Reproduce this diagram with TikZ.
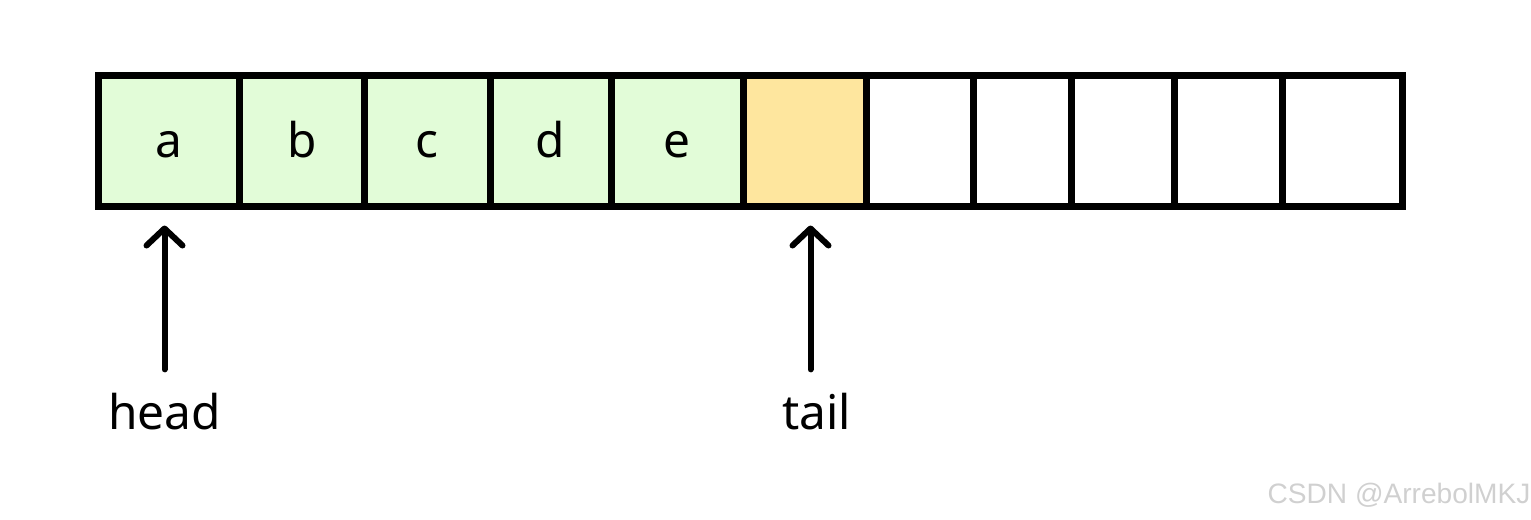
\documentclass[tikz,border=0pt]{standalone}
\usepackage{fontspec}
\setmainfont{Noto Sans}
\newfontfamily\markfont{Liberation Sans}
\usetikzlibrary{arrows.meta, positioning}
\definecolor{QueueGreen}{HTML}{E2FCD8}
\definecolor{QueueYellow}{HTML}{FEE69E}
\definecolor{QueueBlack}{HTML}{000000}
\definecolor{QueueWhite}{HTML}{ffffff}
\definecolor{MarkGray}{HTML}{D0D0D0}
\tikzset{
    % Default text
    every node/.style={font=\fontsize{13.6}{16}\selectfont},
    % Base queue cell
    cell/.style={
        rectangle,
        draw=QueueBlack,
        line width=0.07cm,
        minimum height=1.31cm,
        text height=0.32cm,
        text depth=0cm,
        inner sep=0pt,
        outer sep=0pt
    },
    % Occupied cell
    used/.style={cell, fill=QueueGreen},
    % Slot the tail points at
    slot/.style={cell, fill=QueueYellow},
    % Free cell
    free/.style={cell, fill=QueueWhite},
    % Pointer arrow
    pointer/.style={
        -{Straight Barb[length=0.17cm, width=0.36cm, round]},
        line width=0.06cm,
        line cap=round,
        color=QueueBlack
    },
    % Pointer name
    ptrname/.style={inner sep=0pt, anchor=center}
}

\begin{document}
\begin{tikzpicture}
        \useasboundingbox (0,0) rectangle (15.31,-5.19);

        % Queue cells
        \node (ca) [used, minimum width=1.41cm] at (1.685,-1.41) {a};
        \node (cb) [used, minimum width=1.255cm, right=0pt of ca] {b};
        \node (cc) [used, minimum width=1.255cm, right=0pt of cb] {c};
        \node (cd) [used, minimum width=1.21cm, right=0pt of cc] {d};
        \node (ce) [used, minimum width=1.32cm, right=0pt of cd] {e};
        \node (cf) [slot, minimum width=1.23cm, right=0pt of ce] {};
        \node (cg) [free, minimum width=1.075cm, right=0pt of cf] {};
        \node (ch) [free, minimum width=0.975cm, right=0pt of cg] {};
        \node (ci) [free, minimum width=1.03cm, right=0pt of ch] {};
        \node (cj) [free, minimum width=1.08cm, right=0pt of ci] {};
        \node (ck) [free, minimum width=1.205cm, right=0pt of cj] {};

        % Pointers
        \node (head) [ptrname] at (1.645,-4.115) {head};
        \node (tail) [ptrname] at (8.165,-4.115) {tail};

        \draw [pointer, shorten <=0.23cm, shorten >=0.19cm] (head.north) -- (head.north |- ca.south);
        \draw [pointer, shorten <=0.23cm, shorten >=0.19cm] ([xshift=-0.06cm]tail.north) -- ([xshift=-0.06cm]tail.north |- cf.south);

        % Watermark
        \node (mark) [font=\markfont\fontsize{8}{10}\selectfont, text=MarkGray] at (13.99,-4.95) {CSDN @ArrebolMKJ};
    \end{tikzpicture}
\end{document}
